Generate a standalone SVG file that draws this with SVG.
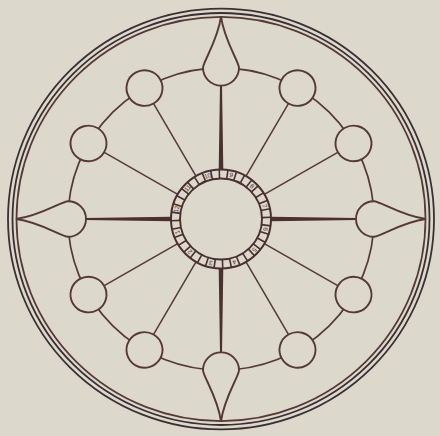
<svg xmlns="http://www.w3.org/2000/svg" xmlns:xlink="http://www.w3.org/1999/xlink" width="440" height="436" viewBox="0 0 440 436">
<style>
.ln{fill:none;stroke:#563936;stroke-width:1.7}
.dk{fill:none;stroke:#3a3034;stroke-width:1.8}
.nd{fill:#dcd8cc;stroke:#563936;stroke-width:1.9}
.sp{fill:none;stroke:#563936;stroke-width:1.5}
.bold{fill:#4a302e;stroke:none}
.num{font-family:"Liberation Sans",Arial,sans-serif;font-size:6.5px;fill:#4a302e;text-anchor:middle;dominant-baseline:central}
</style>
<defs>
<line id="tick" x1="41" y1="0" x2="50" y2="0" stroke="#4a302e" stroke-width="1.6"/>
<line id="spoke" x1="50" y1="0" x2="153" y2="0"/>
<polygon id="bspoke" points="50,-2.3 136,-1 136,1 50,2.3"/>
<circle id="sc" cx="153" cy="0" r="18"/>
<path id="drop" d="M -18,-153 A 18 18 0 0 0 18,-153 C 18,-159 3,-181 0,-205 C -3,-181 -18,-159 -18,-153 Z"/>
</defs>
<rect width="440" height="436" fill="#dcd8cc"/>
<g transform="translate(221 219) scale(1 0.988)">
<g id="rings">
<circle class="dk" r="213"/>
<circle class="dk" r="208.5"/>
<circle class="ln" r="204.5" stroke-width="1.9"/>
</g>
<g id="connectors">
<circle class="ln" r="153"/>
<g class="sp">
<use xlink:href="#spoke" transform="rotate(30)"/>
<use xlink:href="#spoke" transform="rotate(60)"/>
<use xlink:href="#spoke" transform="rotate(120)"/>
<use xlink:href="#spoke" transform="rotate(150)"/>
<use xlink:href="#spoke" transform="rotate(210)"/>
<use xlink:href="#spoke" transform="rotate(240)"/>
<use xlink:href="#spoke" transform="rotate(300)"/>
<use xlink:href="#spoke" transform="rotate(330)"/>
</g>
<g class="bold">
<use xlink:href="#bspoke" transform="rotate(0)"/>
<use xlink:href="#bspoke" transform="rotate(90)"/>
<use xlink:href="#bspoke" transform="rotate(180)"/>
<use xlink:href="#bspoke" transform="rotate(270)"/>
</g>
</g>
<g id="drop-n" class="nd"><use xlink:href="#drop"/></g>
<g id="drop-e" class="nd"><use xlink:href="#drop" transform="rotate(90)"/></g>
<g id="drop-s" class="nd"><use xlink:href="#drop" transform="rotate(180)"/></g>
<g id="drop-w" class="nd"><use xlink:href="#drop" transform="rotate(270)"/></g>
<g id="c30" class="nd"><use xlink:href="#sc" transform="rotate(30)"/></g>
<g id="c60" class="nd"><use xlink:href="#sc" transform="rotate(60)"/></g>
<g id="c120" class="nd"><use xlink:href="#sc" transform="rotate(120)"/></g>
<g id="c150" class="nd"><use xlink:href="#sc" transform="rotate(150)"/></g>
<g id="c210" class="nd"><use xlink:href="#sc" transform="rotate(210)"/></g>
<g id="c240" class="nd"><use xlink:href="#sc" transform="rotate(240)"/></g>
<g id="c300" class="nd"><use xlink:href="#sc" transform="rotate(300)"/></g>
<g id="c330" class="nd"><use xlink:href="#sc" transform="rotate(330)"/></g>
<g id="hub">
<circle r="50" fill="#dcd8cc" stroke="#4a302e" stroke-width="2"/>
<circle r="41" fill="none" stroke="#4a302e" stroke-width="1.9"/>
<use xlink:href="#tick" transform="rotate(8)"/>
<use xlink:href="#tick" transform="rotate(18)"/>
<use xlink:href="#tick" transform="rotate(28)"/>
<use xlink:href="#tick" transform="rotate(38)"/>
<use xlink:href="#tick" transform="rotate(48)"/>
<use xlink:href="#tick" transform="rotate(58)"/>
<use xlink:href="#tick" transform="rotate(68)"/>
<use xlink:href="#tick" transform="rotate(78)"/>
<use xlink:href="#tick" transform="rotate(88)"/>
<use xlink:href="#tick" transform="rotate(98)"/>
<use xlink:href="#tick" transform="rotate(108)"/>
<use xlink:href="#tick" transform="rotate(118)"/>
<use xlink:href="#tick" transform="rotate(128)"/>
<use xlink:href="#tick" transform="rotate(138)"/>
<use xlink:href="#tick" transform="rotate(148)"/>
<use xlink:href="#tick" transform="rotate(158)"/>
<use xlink:href="#tick" transform="rotate(168)"/>
<use xlink:href="#tick" transform="rotate(178)"/>
<use xlink:href="#tick" transform="rotate(188)"/>
<use xlink:href="#tick" transform="rotate(198)"/>
<use xlink:href="#tick" transform="rotate(208)"/>
<use xlink:href="#tick" transform="rotate(218)"/>
<use xlink:href="#tick" transform="rotate(228)"/>
<use xlink:href="#tick" transform="rotate(238)"/>
<use xlink:href="#tick" transform="rotate(248)"/>
<use xlink:href="#tick" transform="rotate(258)"/>
<use xlink:href="#tick" transform="rotate(268)"/>
<use xlink:href="#tick" transform="rotate(278)"/>
<use xlink:href="#tick" transform="rotate(288)"/>
<use xlink:href="#tick" transform="rotate(298)"/>
<use xlink:href="#tick" transform="rotate(308)"/>
<use xlink:href="#tick" transform="rotate(318)"/>
<use xlink:href="#tick" transform="rotate(328)"/>
<use xlink:href="#tick" transform="rotate(338)"/>
<use xlink:href="#tick" transform="rotate(348)"/>
<use xlink:href="#tick" transform="rotate(358)"/>
<text class="num" transform="translate(-44.8 -10.3) rotate(283)">12</text>
<text class="num" transform="translate(-33.6 -31.4) rotate(313)">11</text>
<text class="num" transform="translate(-13.4 -44.0) rotate(343)">10</text>
<text class="num" transform="translate(10.3 -44.8) rotate(13)">9</text>
<text class="num" transform="translate(31.4 -33.6) rotate(43)">8</text>
<text class="num" transform="translate(44.0 -13.4) rotate(73)">7</text>
<text class="num" transform="translate(44.8 10.3) rotate(103)">6</text>
<text class="num" transform="translate(33.6 31.4) rotate(133)">5</text>
<text class="num" transform="translate(13.4 44.0) rotate(163)">4</text>
<text class="num" transform="translate(-10.3 44.8) rotate(193)">3</text>
<text class="num" transform="translate(-31.4 33.6) rotate(223)">2</text>
<text class="num" transform="translate(-44.0 13.4) rotate(253)">1</text>
</g>
</g>
</svg>
